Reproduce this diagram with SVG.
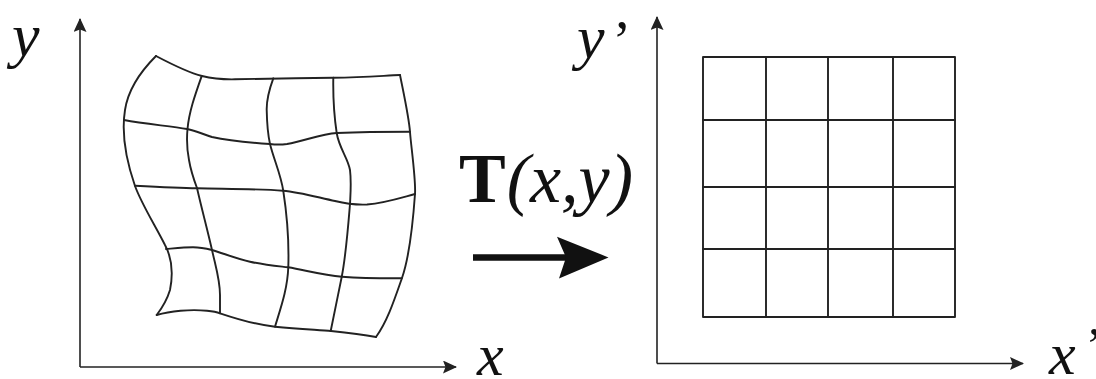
<svg xmlns="http://www.w3.org/2000/svg" width="1096" height="379" viewBox="0 0 1096 379">
<style>
.axis{stroke:#222;stroke-width:1.6;fill:none}
.grid{stroke:#222;stroke-width:1.9;fill:none;stroke-linecap:round;stroke-linejoin:round}
.lbl{font-family:"Liberation Serif","Times New Roman",serif;font-style:italic;fill:#111}
</style>
<defs>
<marker id="ax" viewBox="0 0 14 13" refX="13" refY="6.5" markerWidth="14" markerHeight="13" markerUnits="userSpaceOnUse" orient="auto">
<path d="M0,0 L14,6.5 L0,13 L2.5,6.5 z" fill="#222"/>
</marker>
</defs>
<rect width="1096" height="379" fill="#fff"/>

<g id="axes-left">
<line class="axis" x1="80" y1="367" x2="80" y2="19" marker-end="url(#ax)"/>
<line class="axis" x1="80" y1="367" x2="456" y2="367" marker-end="url(#ax)"/>
<text class="lbl" x="12" y="56" font-size="62">y</text>
<text class="lbl" x="477" y="375" font-size="60">x</text>
</g>

<g id="grid-warped" class="grid">
<path d="M156,56 C175,66 190,73 202,76 S225,79.5 235,79.3 S300,78 333,77.7 S385,75.5 400,75"/>
<path d="M400,75 C405,100 409,118 410,132 S416,180 415,194 S410,255 402,278 S387,322 376,337"/>
<path d="M156.7,315 C170,311 190,309 207,310.7 C215,311.5 218,312.5 220,313.3 C240,320 258,325 275,326.7 C300,329 320,330 331,331 C350,333 365,335 376,337"/>
<path d="M156,56 C140,72 128,90 125,110 C121,135 126,160 135,186 C142,205 155,225 165,245 C172,258 173,275 170,290 C167,300 162,308 156.7,315"/>
<path d="M124,120 C145,124 170,126 187,129 C197,131 202,134 212,137 C230,141 255,143 270,144 C278,145 283,144.5 287,144 C305,141 320,134 337,133 C360,132 385,131.7 410,131.7"/>
<path d="M135,185.7 C160,187 180,188 197,188.3 C230,189 260,189 283,190.7 C300,192 320,198 335,201 C345,203.5 355,205 367,204.5 C385,203 400,198 415,194"/>
<path d="M166,249 C178,248 185,247.3 193,247.3 C200,247.3 206,248.5 212,250 C225,254 238,259 250,261.7 C265,265 277,266 288,267.3 C305,270 322,275 342,276.7 C365,278.5 385,278.3 401.7,278.3"/>
<path d="M201.7,76 C195,95 189,112 187.5,129 C186.5,140 187,150 189,160 C191,172 194,180 197,188 C202,210 207,228 212,250 C216,268 220,280 220,295 L220,313.3"/>
<path d="M273.3,78.3 C269,90 266.5,100 266.7,110 C267,125 268,135 270,144 C274,160 281,175 283.3,191 C287,215 289,245 288.3,267 C287.5,290 280,310 275,326.7"/>
<path d="M333.3,77.7 C333,95 334,115 336.7,133 C339,148 348,158 350,170 C351.5,182 350.5,194 350,204 C348,228 346,255 341.7,277 C338,295 334,315 330.7,331"/>
</g>

<g id="label-T">
<text x="459" y="202" font-family="Liberation Serif,'Times New Roman',serif" font-size="70" fill="#111"><tspan font-weight="bold">T</tspan><tspan font-style="italic" dx="1">(x,y)</tspan></text>
</g>

<g id="connectors">
<line x1="473" y1="257.5" x2="566" y2="257.5" stroke="#111" stroke-width="6.5"/>
<polygon points="557,236.7 608.5,257.4 559,278.5 566,257.4" fill="#111"/>
</g>

<g id="axes-right">
<line class="axis" x1="657" y1="363.5" x2="657" y2="17" marker-end="url(#ax)"/>
<line class="axis" x1="657" y1="363.5" x2="1023" y2="363.5" marker-end="url(#ax)"/>
<text class="lbl" x="577" y="58" font-size="62">y<tspan font-style="normal" font-size="56" dx="8" dy="2">’</tspan></text>
<text class="lbl" x="1049" y="374" font-size="60">x<tspan font-style="normal" font-size="50" dx="10" dy="-12">’</tspan></text>
</g>

<g id="grid-regular" class="grid">
<rect x="703" y="57" width="252" height="260"/>
<path d="M766,57 V317 M828,57 V317 M893,57 V317 M703,120 H955 M703,187 H955 M703,249 H955"/>
</g>
</svg>
